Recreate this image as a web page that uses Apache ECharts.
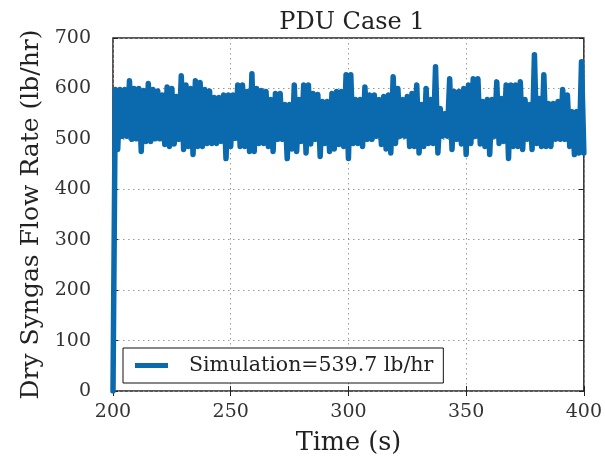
<!DOCTYPE html>
<html>
<head>
<meta charset="utf-8">
<script src="https://cdn.jsdelivr.net/npm/echarts@6/dist/echarts.min.js"></script>
<style>html,body{margin:0;padding:0;background:#fff}#c{width:605px;height:461px}</style>
</head>
<body>
<div id="c"></div>
<script>
// Sampling start/step (s)
var tStart = 200, tStep = 1;
// Dry syngas flow rate (lb/hr), one per second from 200 s to 400 s
var flow = [
  0,
  598,479,598,505,598,505,615,499,600,500,600,475,596,495,610,495,598,500,595,500,
  587,489,603,485,600,490,584,499,625,479,607,485,600,469,615,485,612,485,598,491,
  595,491,582,491,582,495,587,461,587,485,587,501,607,485,607,485,594,475,629,475,
  600,491,596,491,594,485,578,475,590,499,590,499,568,461,568,480,607,475,578,495,
  607,472,607,490,590,499,588,465,574,491,574,475,590,480,594,489,594,485,627,461,
  627,491,578,491,578,485,603,499,587,499,587,505,578,489,584,480,587,472,623,491,
  600,505,578,505,584,485,590,485,607,472,568,485,600,491,578,491,643,472,560,505,
  550,505,619,479,594,499,594,490,600,469,607,491,619,505,619,490,574,485,578,469,
  578,505,613,491,580,495,607,461,607,485,607,485,613,479,578,499,568,479,667,491,
  580,485,627,485,570,485,570,499,574,499,598,499,587,485,554,469,554,472,653,472
];
var xTicks = {min: 200, max: 400, interval: 50};
var yTicks = {min: 0, max: 700, interval: 100};
var titleText = 'PDU Case 1';
var xName = 'Time (s)';
var yName = 'Dry Syngas Flow Rate (lb/hr)';
var seriesName = 'Simulation=539.7 lb/hr';

var pts = flow.map(function (v, i) { return [tStart + i * tStep, v]; });

var FONT = 'DejaVu Serif';
var gridLine = {show: true, lineStyle: {color: '#9a9a9a', type: [1.5, 3.5], width: 1}};
var chart = echarts.init(document.getElementById('c'), null, {renderer: 'canvas'});
chart.setOption({
  animation: false,
  backgroundColor: '#fff',
  title: {
    text: titleText, left: 347, textAlign: 'center', top: 6,
    textStyle: {fontFamily: FONT, fontSize: 24, fontWeight: 'normal', color: '#222'}
  },
  grid: {left: 113, right: 20, top: 38, bottom: 67, show: true, borderColor: '#222', borderWidth: 1.5, backgroundColor: 'transparent'},
  legend: {
    left: 123, top: 348,
    data: [{name: seriesName, icon: 'rect'}],
    itemWidth: 33, itemHeight: 5,
    borderColor: '#111', borderWidth: 1, borderRadius: 0, backgroundColor: '#fff',
    padding: [7, 10, 7, 12],
    textStyle: {fontFamily: FONT, fontSize: 20.5, color: '#222', padding: [0, 0, 0, 16]}
  },
  xAxis: [{
    type: 'value', min: xTicks.min, max: xTicks.max, interval: xTicks.interval,
    name: xName, nameLocation: 'middle', nameGap: 39,
    nameTextStyle: {fontFamily: FONT, fontSize: 25.5, color: '#222'},
    axisLine: {show: false}, axisTick: {show: true, inside: true, length: 5, lineStyle: {color: '#222'}},
    axisLabel: {fontFamily: FONT, fontSize: 19, color: '#333', margin: 12},
    splitLine: gridLine
  }, {
    type: 'value', position: 'top', min: xTicks.min, max: xTicks.max, interval: xTicks.interval,
    axisLine: {show: false}, axisTick: {show: true, inside: true, length: 5, lineStyle: {color: '#222'}},
    axisLabel: {show: false}, splitLine: {show: false}
  }],
  yAxis: [{
    type: 'value', min: yTicks.min, max: yTicks.max, interval: yTicks.interval,
    name: yName, nameLocation: 'middle', nameGap: 69, nameRotate: 90,
    nameTextStyle: {fontFamily: FONT, fontSize: 25, color: '#222'},
    axisLine: {show: false}, axisTick: {show: true, inside: true, length: 5, lineStyle: {color: '#222'}},
    axisLabel: {fontFamily: FONT, fontSize: 19, color: '#333', margin: 22},
    splitLine: gridLine
  }, {
    type: 'value', position: 'right', min: yTicks.min, max: yTicks.max, interval: yTicks.interval,
    axisLine: {show: false}, axisTick: {show: true, inside: true, length: 5, lineStyle: {color: '#222'}},
    axisLabel: {show: false}, splitLine: {show: false}
  }],
  series: [{
    name: seriesName, type: 'line', data: pts, showSymbol: false,
    xAxisIndex: 0, yAxisIndex: 0,
    lineStyle: {color: '#0b6aae', width: 5.5, join: 'round', cap: 'round'},
    itemStyle: {color: '#0b6aae'},
    clip: true
  }]
});
</script>
</body>
</html>
